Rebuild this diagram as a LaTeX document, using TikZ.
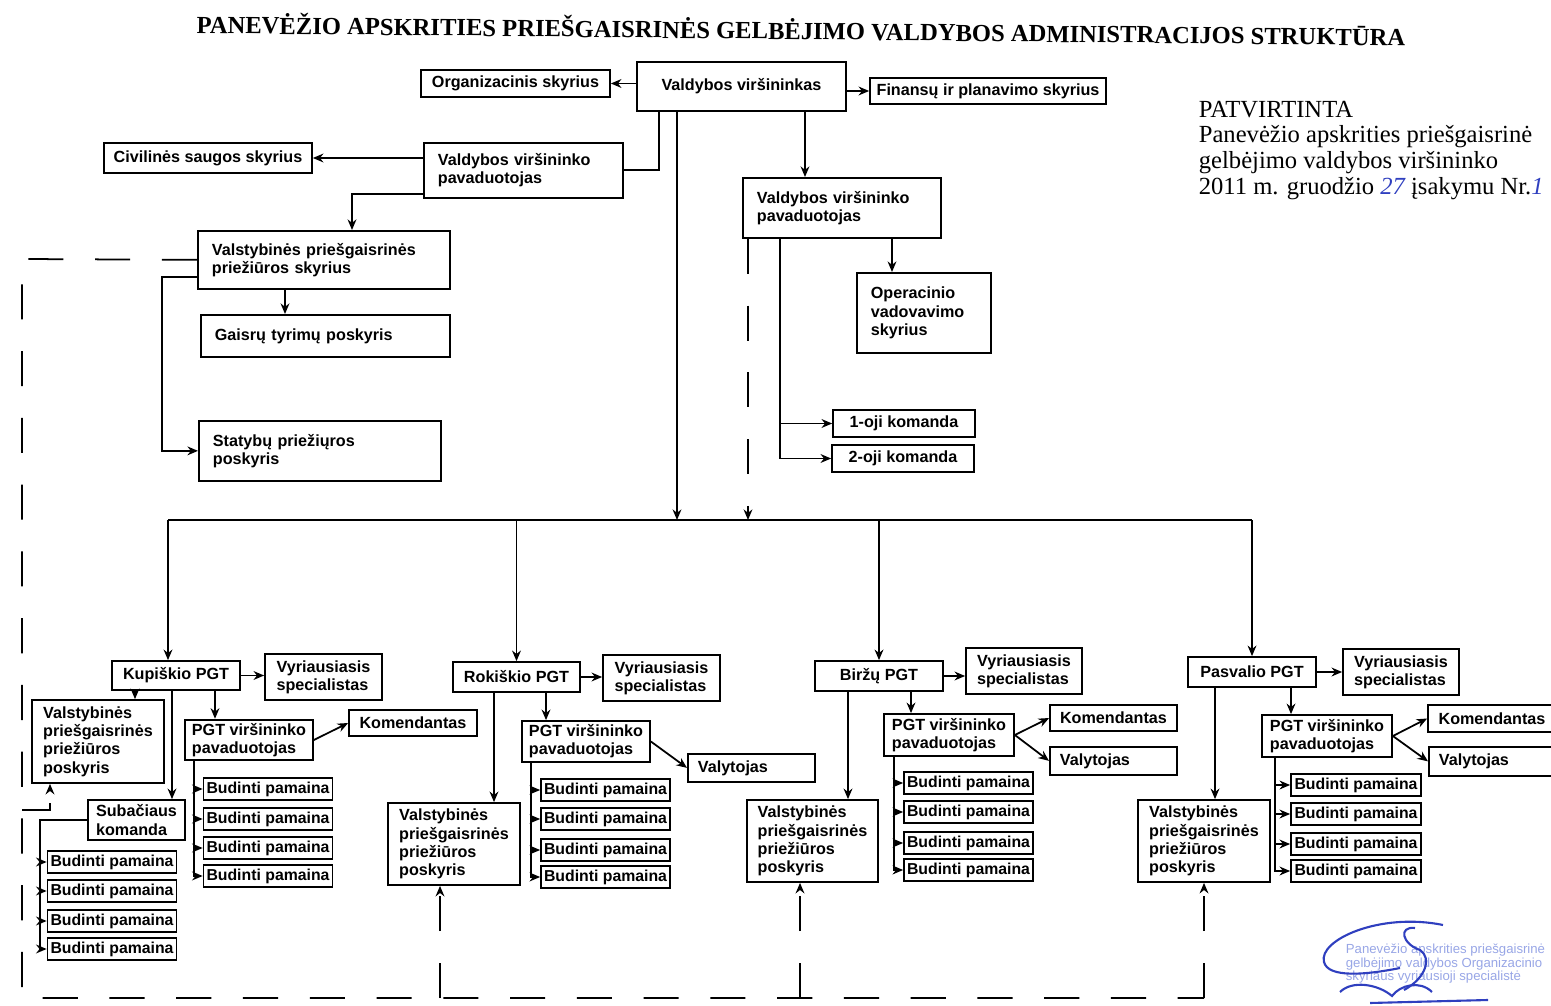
\documentclass[tikz,border=0pt]{standalone}
\usepackage{fontspec}
\setmainfont{Liberation Serif}
\setsansfont{Liberation Sans}
\usetikzlibrary{arrows.meta}

\definecolor{ink}{HTML}{2F3FBF}
\definecolor{stampblue}{HTML}{98A6E6}
\newcommand\boxfont{\sffamily\bfseries\fontsize{9.2}{10.4}\selectfont}
\newcommand\dutyfont{\sffamily\bfseries\fontsize{9}{10}\selectfont}
\newcommand\ttlfont{\rmfamily\bfseries\fontsize{14}{16}\selectfont}
\newcommand\patfont{\rmfamily\fontsize{14}{14.6}\selectfont}

\begin{document}
\begin{tikzpicture}[x=0.02cm,y=-0.02cm,line width=1pt,>={Stealth[length=6pt,width=5pt]},
    box/.style={draw, font=\boxfont, align=left, inner sep=2pt},
    wbox/.style={box, anchor=north west, inner xsep=0.28cm},
    lbox/.style={box, anchor=north west, inner xsep=0.2cm},
    duty/.style={draw, font=\dutyfont, inner sep=1pt, minimum width=2.58cm, minimum height=0.44cm},
    dashline/.style={dash pattern=on 20pt off 18pt}]
    % \draw[help lines] (0,0) grid[step=50] (1551,1006);
    \useasboundingbox (0,0) rectangle (1551,1006);
    \clip (0,0) rectangle (1551,1006);

    \node[font=\ttlfont, rotate=-0.6]                                     (title) at (801,29) {PANEVĖŽIO APSKRITIES PRIEŠGAISRINĖS GELBĖJIMO VALDYBOS ADMINISTRACIJOS STRUKTŪRA};
    \node[font=\patfont, anchor=north west, align=left, inner sep=0]     (pat) at (1198,100) {PATVIRTINTA\\Panevėžio apskrities priešgaisrinė\\gelbėjimo valdybos viršininko\\2011 m. gruodžio \textcolor{ink}{\itshape 27} įsakymu Nr.\textcolor{ink}{\itshape 1}};

    % administracija
    \node[box, minimum width=4.18cm, minimum height=0.98cm]            (vir) at (741.5,86.5) {Valdybos viršininkas};
    \node[box, minimum width=3.78cm, minimum height=0.54cm]            (org) at (515.5,83.5) {Organizacinis skyrius};
    \node[box, minimum width=4.72cm, minimum height=0.52cm]            (fin) at (988,91) {Finansų ir planavimo skyrius};
    \node[wbox, text width=3.42cm, minimum height=1.10cm]              (pavL) at (423,142) {Valdybos viršininko\\pavaduotojas};
    \node[box, minimum width=4.16cm, minimum height=0.60cm]            (civ) at (208,158) {Civilinės saugos skyrius};
    \node[wbox, text width=4.48cm, minimum height=1.16cm]              (vps) at (197,230) {Valstybinės priešgaisrinės\\priežiūros skyrius};
    \node[wbox, text width=4.42cm, minimum height=0.84cm]              (gts) at (200,314) {Gaisrų tyrimų poskyris};
    \node[wbox, text width=4.28cm, minimum height=1.20cm]              (sps) at (198,420) {Statybų priežiųros\\poskyris};
    \node[wbox, text width=3.40cm, minimum height=1.20cm]              (pavR) at (742,177) {Valdybos viršininko\\pavaduotojas};
    \node[wbox, text width=2.12cm, minimum height=1.60cm]              (ops) at (856,272) {Operacinio\\vadovavimo\\skyrius};
    \node[box, minimum width=2.84cm, minimum height=0.54cm]            (k1) at (904,423.5) {1-oji komanda};
    \node[box, minimum width=2.84cm, minimum height=0.54cm]            (k2) at (903,458.5) {2-oji komanda};

    % Kupiskio PGT
    \node[box, minimum width=2.56cm, minimum height=0.58cm]            (kpgt) at (176,675.5) {Kupiškio PGT};
    \node[box, minimum width=2.34cm, minimum height=0.92cm]            (kvs) at (323.5,677) {Vyriausiasis\\specialistas};
    \node[box, minimum width=2.64cm, minimum height=1.66cm]            (kvpp) at (98,741.5) {Valstybinės\\priešgaisrinės\\priežiūros\\poskyris};
    \node[box, minimum width=1.94cm, minimum height=0.80cm]            (ksub) at (136.5,820) {Subačiaus\\komanda};
    \node[box, minimum width=2.56cm, minimum height=0.80cm]            (kvp) at (249,740) {PGT viršininko\\pavaduotojas};
    \node[box, minimum width=2.56cm, minimum height=0.52cm]            (kkom) at (413,723) {Komendantas};
    \node[duty]                                                         (kb1) at (268,789) {Budinti pamaina};
    \node[duty]                                                         (kb2) at (268,819) {Budinti pamaina};
    \node[duty]                                                         (kb3) at (268,848) {Budinti pamaina};
    \node[duty]                                                         (kb4) at (268,876) {Budinti pamaina};
    \node[duty]                                                         (ksb1) at (112,862) {Budinti pamaina};
    \node[duty]                                                         (ksb2) at (112,891) {Budinti pamaina};
    \node[duty]                                                         (ksb3) at (112,921) {Budinti pamaina};
    \node[duty]                                                         (ksb4) at (112,949) {Budinti pamaina};

    % Rokiskio PGT
    \node[box, minimum width=2.54cm, minimum height=0.60cm]            (rpgt) at (516.5,677) {Rokiškio PGT};
    \node[box, minimum width=2.34cm, minimum height=0.92cm]            (rvs) at (661.5,678) {Vyriausiasis\\specialistas};
    \node[box, minimum width=2.64cm, minimum height=1.64cm]            (rvpp) at (454,844) {Valstybinės\\priešgaisrinės\\priežiūros\\poskyris};
    \node[box, minimum width=2.56cm, minimum height=0.82cm]            (rvp) at (586,741.5) {PGT viršininko\\pavaduotojas};
    \node[lbox, text width=2.14cm, minimum height=0.56cm]              (rval) at (687,753) {Valytojas};
    \node[duty]                                                         (rb1) at (605.5,790) {Budinti pamaina};
    \node[duty]                                                         (rb2) at (605.5,819) {Budinti pamaina};
    \node[duty]                                                         (rb3) at (605.5,850) {Budinti pamaina};
    \node[duty]                                                         (rb4) at (605.5,877) {Budinti pamaina};

    % Birzu PGT
    \node[box, minimum width=2.56cm, minimum height=0.60cm]            (bpgt) at (879,676) {Biržų PGT};
    \node[box, minimum width=2.32cm, minimum height=0.92cm]            (bvs) at (1024,671) {Vyriausiasis\\specialistas};
    \node[box, minimum width=2.62cm, minimum height=1.64cm]            (bvpp) at (812.5,841) {Valstybinės\\priešgaisrinės\\priežiūros\\poskyris};
    \node[box, minimum width=2.60cm, minimum height=0.84cm]            (bvp) at (949,735) {PGT viršininko\\pavaduotojas};
    \node[box, minimum width=2.54cm, minimum height=0.52cm]            (bkom) at (1113.5,718) {Komendantas};
    \node[lbox, text width=2.14cm, minimum height=0.56cm]              (bval) at (1049,746) {Valytojas};
    \node[duty]                                                         (bb1) at (968.5,783) {Budinti pamaina};
    \node[duty]                                                         (bb2) at (968.5,812) {Budinti pamaina};
    \node[duty]                                                         (bb3) at (968.5,843) {Budinti pamaina};
    \node[duty]                                                         (bb4) at (968.5,870) {Budinti pamaina};

    % Pasvalio PGT
    \node[box, minimum width=2.56cm, minimum height=0.60cm]            (ppgt) at (1252,672) {Pasvalio PGT};
    \node[box, minimum width=2.32cm, minimum height=0.92cm]            (pvs) at (1401,672) {Vyriausiasis\\specialistas};
    \node[box, minimum width=2.64cm, minimum height=1.64cm]            (pvpp) at (1204,841) {Valstybinės\\priešgaisrinės\\priežiūros\\poskyris};
    \node[box, minimum width=2.60cm, minimum height=0.84cm]            (pvp) at (1327,736) {PGT viršininko\\pavaduotojas};
    \node[box, minimum width=2.56cm, minimum height=0.54cm]            (pkom) at (1492,718.5) {Komendantas};
    \node[lbox, text width=2.16cm, minimum height=0.58cm]              (pval) at (1428,746) {Valytojas};
    \node[duty, minimum width=2.60cm]                                   (pb1) at (1356,785) {Budinti pamaina};
    \node[duty, minimum width=2.60cm]                                   (pb2) at (1356,814) {Budinti pamaina};
    \node[duty, minimum width=2.60cm]                                   (pb3) at (1356,844) {Budinti pamaina};
    \node[duty, minimum width=2.60cm]                                   (pb4) at (1356,871) {Budinti pamaina};

    \coordinate (busL) at (168,520);
    \coordinate (busR) at (1252,520);
    \coordinate (busA) at (677,520);
    \coordinate (busB) at (748,520);
    \coordinate (dTL) at (22,259);
    \coordinate (dK) at (22,810);
    \coordinate (dBL) at (22,998);
    \coordinate (dBR) at (1204,998);

    % administracija
    \draw[->] (vir.west |- org.east) -- (org.east);
    \draw[->] (vir.east |- fin.west) -- (fin.west);
    \draw (vir.south -| 659,0) |- (pavL.east);
    \draw[->] (vir.south -| busA) -- (busA);
    \draw[->] (vir.south -| 805,0) -- (pavR.north -| 805,0);
    \draw[->] (pavL.west |- civ.east) -- (civ.east);
    \draw[->] (pavL.south west) ++(0,-5) -| (vps.north -| 352,0);
    \draw[->] (vps.south -| 285,0) -- (gts.north -| 285,0);
    \draw[->] (vps.south west) ++(0,-13) -| (sps.west -| 162,0) -- (sps.west);
    \draw[->] (pavR.south -| 892,0) -- (ops.north -| 892,0);
    \draw[->] (pavR.south -| 780,0) |- (k1.west);
    \draw[->] (pavR.south -| 780,0) |- (k2.west);
    \draw[dashline,->] (pavR.south -| busB) -- (busB);

    \draw (busL) -- (busR);
    \draw[->] (busL) -- (busL |- kpgt.north);
    \draw[->] (rpgt.north |- busL) -- (rpgt.north);
    \draw[->] (bpgt.north |- busL) -- (bpgt.north);
    \draw[->] (busR) -- (ppgt.north);

    % Kupiskio PGT
    \draw[->] (kpgt.east) -- (kpgt.east -| kvs.west);
    \draw[->] (kpgt.south -| 135,0) -- (kvpp.north -| 135,0);
    \draw[->] (kpgt.south -| 172,0) -- (ksub.north -| 172,0);
    \draw[->] (kpgt.south -| 215,0) -- (kvp.north -| 215,0);
    \draw[->] (kvp.east) -- (kkom.west);
    \draw[->] (kvp.south -| 194,0) |- (kb1.west);
    \draw[->] (kvp.south -| 194,0) |- (kb2.west);
    \draw[->] (kvp.south -| 194,0) |- (kb3.west);
    \draw[->] (kvp.south -| 194,0) |- (kb4.west);
    \draw[->] (ksub.west) -- (ksub.west -| 40,0) |- (ksb1.west);
    \draw[->] (ksub.west -| 40,0) |- (ksb2.west);
    \draw[->] (ksub.west -| 40,0) |- (ksb3.west);
    \draw[->] (ksub.west -| 40,0) |- (ksb4.west);

    % Rokiskio PGT
    \draw[->] (rpgt.east) -- (rpgt.east -| rvs.west);
    \draw[->] (rpgt.south -| 494,0) -- (rvpp.north -| 494,0);
    \draw[->] (rpgt.south -| 546,0) -- (rvp.north -| 546,0);
    \draw[->] (rvp.east) -- (rval.west);
    \draw[->] (rvp.south -| 531,0) |- (rb1.west);
    \draw[->] (rvp.south -| 531,0) |- (rb2.west);
    \draw[->] (rvp.south -| 531,0) |- (rb3.west);
    \draw[->] (rvp.south -| 531,0) |- (rb4.west);

    % Birzu PGT
    \draw[->] (bpgt.east) -- (bpgt.east -| bvs.west);
    \draw[->] (bpgt.south -| 848,0) -- (bvpp.north -| 848,0);
    \draw[->] (bpgt.south -| 911,0) -- (bvp.north -| 911,0);
    \draw[->] (bvp.east) -- (bkom.west);
    \draw[->] (bvp.east) -- (bval.west);
    \draw[->] (bvp.south -| 894,0) |- (bb1.west);
    \draw[->] (bvp.south -| 894,0) |- (bb2.west);
    \draw[->] (bvp.south -| 894,0) |- (bb3.west);
    \draw[->] (bvp.south -| 894,0) |- (bb4.west);

    % Pasvalio PGT
    \draw[->] (ppgt.east) -- (ppgt.east -| pvs.west);
    \draw[->] (ppgt.south -| 1215,0) -- (pvpp.north -| 1215,0);
    \draw[->] (ppgt.south -| 1291,0) -- (pvp.north -| 1291,0);
    \draw[->] (pvp.east) -- (pkom.west);
    \draw[->] (pvp.east) -- (pval.west);
    \draw[->] (pvp.south -| 1275,0) |- (pb1.west);
    \draw[->] (pvp.south -| 1275,0) |- (pb2.west);
    \draw[->] (pvp.south -| 1275,0) |- (pb3.west);
    \draw[->] (pvp.south -| 1275,0) |- (pb4.west);

    % prieziura (punktyras)
    \draw[dashline] (vps.west) -- (dTL) -- (dBL) -- (dBR);
    \draw[dashline,->] (dK) -| (kvpp.south -| 50,0);
    \draw[dashline,->] (dBL -| 440,0) -- (rvpp.south -| 440,0);
    \draw[dashline,->] (dBL -| 800,0) -- (bvpp.south -| 800,0);
    \draw[dashline,->] (dBR) -- (dBR |- pvpp.south);

    % antspaudas ir parasas
    \node[font=\sffamily\fontsize{7.5}{7.7}\selectfont, text=stampblue, anchor=north west, align=left, inner sep=0] (stamp) at (1345,943) {Panevėžio apskrities priešgaisrinė\\gelbėjimo valdybos Organizacinio\\skyriaus vyriausioji specialistė};
    \draw[ink, line width=1.2pt] (1443,925) .. controls (1380,912) and (1318,940) .. (1324,962) .. controls (1328,978) and (1365,975) .. (1400,968);
    \draw[ink, line width=1.2pt] (1415,928) .. controls (1398,926) and (1402,944) .. (1420,950) .. controls (1432,958) and (1426,978) .. (1404,990);
    \draw[ink, line width=1.2pt] (1340,992) .. controls (1352,980) and (1378,984) .. (1392,996) .. controls (1400,985) and (1420,980) .. (1432,992);
    \draw[ink, line width=1.2pt] (1370,1003) -- (1488,1000);
\end{tikzpicture}
\end{document}
